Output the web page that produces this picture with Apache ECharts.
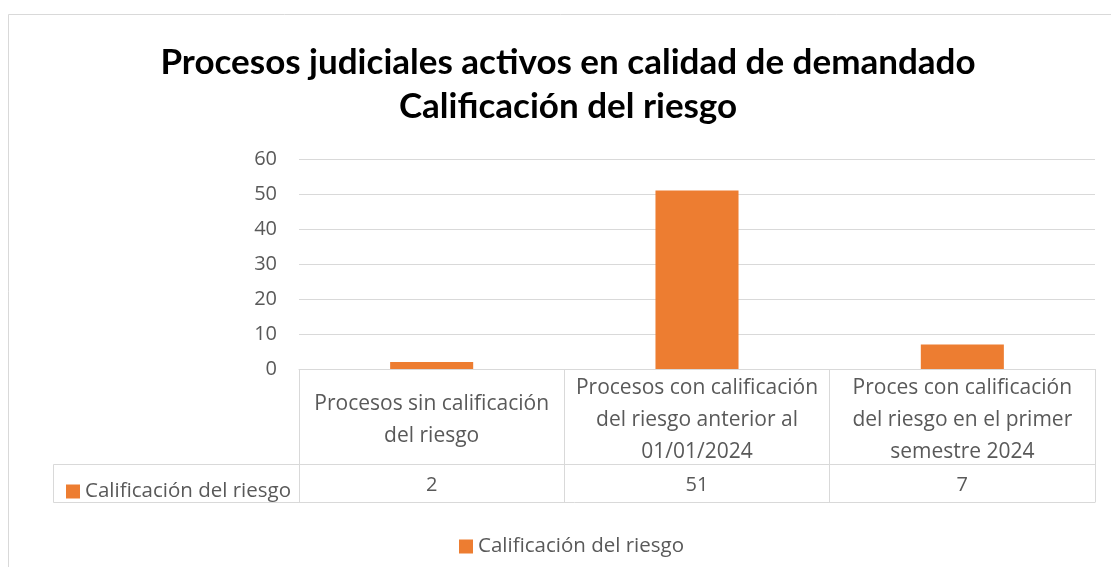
<!DOCTYPE html>
<html>
<head>
<meta charset="utf-8">
<script src="https://cdn.jsdelivr.net/npm/echarts@6/dist/echarts.min.js"></script>
<style>
html,body{margin:0;padding:0;background:#fff;}
#chart{width:1111px;height:567px;}
</style>
</head>
<body>
<div id="chart"></div>
<script>
var titleLines = ['Procesos judiciales activos en calidad de demandado', 'Calificación del riesgo'];
var seriesName = 'Calificación del riesgo';
var categories = [
  'Procesos sin calificación\ndel riesgo',
  'Procesos con calificación\ndel riesgo anterior al\n01/01/2024',
  'Proces con calificación\ndel riesgo en el primer\nsemestre 2024'
];
var values = [2, 51, 7];
var yTicks = [0, 10, 20, 30, 40, 50, 60];

var FONT = 'Open Sans';
var TFONT = 'Lato';
var FS = 21;
var LFS = 20.5;
var NFS = 20;
var GRAY = '#595959';
var LINE = '#d9d9d9';
var ORANGE = '#ED7D31';

var chart = echarts.init(document.getElementById('chart'), null, {renderer: 'canvas'});
chart.setOption({
  backgroundColor: '#fff',
  animation: false,
  title: {
    text: titleLines.join('\n'),
    left: 563,
    top: 36,
    textAlign: 'center',
    textStyle: {fontFamily: TFONT, fontWeight: 'bold', fontSize: 35, color: '#000', lineHeight: 44}
  },
  legend: [
    {
      data: [seriesName], left: 454, top: 531, icon: 'rect', itemWidth: 14, itemHeight: 14,
      textStyle: {fontFamily: FONT, fontSize: LFS, color: GRAY}
    },
    {
      data: [seriesName], left: 61, top: 476, icon: 'rect', itemWidth: 14, itemHeight: 14,
      textStyle: {fontFamily: FONT, fontSize: LFS, color: GRAY}, selectedMode: false
    }
  ],
  grid: {left: 299, right: 16, top: 159, bottom: 198, containLabel: false},
  xAxis: [
    {
      type: 'category', data: categories, position: 'bottom',
      axisLine: {show: true, lineStyle: {color: LINE, width: 1}},
      axisTick: {show: true, length: 133, lineStyle: {color: LINE, width: 1}},
      axisLabel: {fontFamily: FONT, fontSize: FS, color: GRAY, lineHeight: 32, margin: 51, verticalAlign: 'middle', align: 'center', interval: 0}
    },
    {
      type: 'category', data: categories, position: 'bottom', offset: 95,
      axisLine: {show: true, lineStyle: {color: LINE, width: 1}},
      axisTick: {show: false},
      axisLabel: {fontFamily: FONT, fontSize: NFS, color: GRAY, margin: 21, verticalAlign: 'middle', interval: 0,
        formatter: function (v, i) { return String(values[i]); }}
    }
  ],
  yAxis: {
    type: 'value', min: yTicks[0], max: yTicks[yTicks.length - 1], interval: 10,
    axisLine: {show: false}, axisTick: {show: false},
    splitLine: {lineStyle: {color: LINE, width: 1}},
    axisLabel: {fontFamily: FONT, fontSize: NFS, color: GRAY, margin: 22}
  },
  series: [{
    name: seriesName, type: 'bar', data: values, barWidth: '31.3%',
    itemStyle: {color: ORANGE}
  }],
  graphic: [
    {type: 'rect', shape: {x: 8.5, y: 14.5, width: 1300, height: 700}, style: {fill: 'none', stroke: LINE, lineWidth: 1}, silent: true, z: -1},
    {type: 'line', shape: {x1: 53.5, y1: 464.5, x2: 299, y2: 464.5}, style: {stroke: LINE, lineWidth: 1}},
    {type: 'line', shape: {x1: 53.5, y1: 502.5, x2: 1095.5, y2: 502.5}, style: {stroke: LINE, lineWidth: 1}},
    {type: 'line', shape: {x1: 53.5, y1: 464.5, x2: 53.5, y2: 502.5}, style: {stroke: LINE, lineWidth: 1}}
  ]
});
</script>
</body>
</html>
